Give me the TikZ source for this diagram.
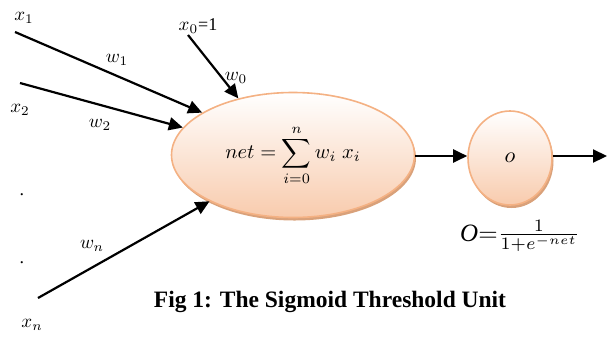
\documentclass[tikz,border=0pt]{standalone}
\usepackage{amsmath}
\usepackage{graphicx}
\usepackage{fontspec}
\setmainfont{Liberation Serif}
\usetikzlibrary{arrows.meta,shapes.geometric,shadows}
\definecolor{peach}{HTML}{F8CBAD}
\definecolor{peachline}{HTML}{F4B183}
\definecolor{peachshadow}{HTML}{D9A17A}
\begin{document}
\begin{tikzpicture}[x=1pt,y=-1pt,
  unit/.style={ellipse, draw=peachline, line width=1.6pt, top color=white, bottom color=peach,
    drop shadow={shadow xshift=1.5pt, shadow yshift=-3pt, fill=peachshadow, opacity=1}},
  conn/.style={line width=2.2pt, -{Triangle[length=14pt,width=13pt]}},
  lbl/.style={inner sep=0pt}]
\useasboundingbox (0,0) rectangle (607,338);
\node[unit, minimum width=243pt, minimum height=125pt, inner sep=0pt] (net) at (293,155)
  {\scalebox{2.05}{$\displaystyle net=\sum_{i=0}^{n} w_i\; x_i$}};
\node[unit, minimum width=84pt, minimum height=94pt, inner sep=0pt] (o) at (510,158)
  {\scalebox{2.2}{$o$}};
\coordinate (x1s) at (15,32);
\coordinate (x2s) at (20,83);
\coordinate (x0s) at (188,35);
\coordinate (xns) at (38,298);
\coordinate (outend) at (607,156);
\draw[conn] (x1s) -- (net.155);
\draw[conn] (x2s) -- (net.166);
\draw[conn] (x0s) -- (net.134);
\draw[conn] (xns) -- (net.209);
\draw[conn] (net.east |- 0,156) -- (o.west |- 0,156);
\draw[conn] (o.east |- 0,156) -- (outend);
\node[lbl] (lx1) at (24,18) {\scalebox{1.9}{$x_1$}};
\node[lbl] (lw1) at (117,60) {\scalebox{1.9}{$w_1$}};
\node[lbl] (lx2) at (20,110) {\scalebox{1.9}{$x_2$}};
\node[lbl] (lw2) at (100,125) {\scalebox{1.9}{$w_2$}};
\node[lbl] (lx0) at (198,26) {\scalebox{1.9}{$x_0$}\fontsize{18}{20}\selectfont=1};
\node[lbl] (lw0) at (236,78) {\scalebox{1.9}{$w_0$}};
\node[lbl] (lwn) at (92,246) {\scalebox{1.9}{$w_n$}};
\node[lbl] (lxn) at (32,325) {\scalebox{1.9}{$x_n$}};
\node[lbl] (d1) at (22,195) {\fontsize{18}{20}\selectfont .};
\node[lbl] (d2) at (22,263) {\fontsize{18}{20}\selectfont .};
\node[inner sep=0pt, anchor=west] (form) at (460,236) {\scalebox{2.5}{$\mathit{O}{=}\frac{1}{1+e^{-net}}$}};
\node[inner sep=0pt, font=\bfseries\fontsize{23.5}{27}\selectfont] (cap) at (330,302) {Fig 1: The Sigmoid Threshold Unit};
\end{tikzpicture}
\end{document}
